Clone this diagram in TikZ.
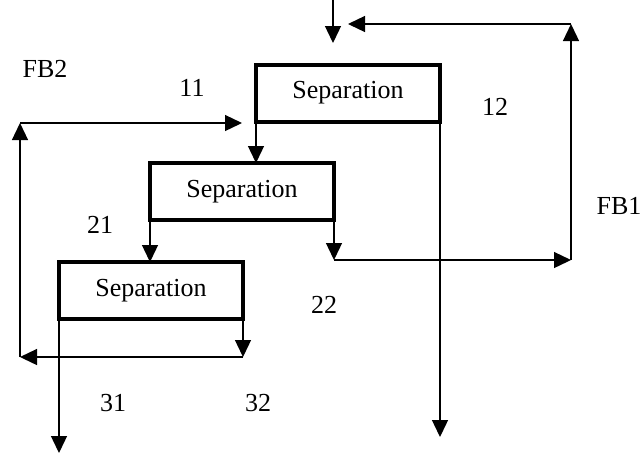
\documentclass[tikz,border=0pt]{standalone}
\usepackage{fontspec}
\setmainfont{Liberation Serif}
\usetikzlibrary{arrows.meta}

\begin{document}
\begin{tikzpicture}[x=0.5pt,y=-0.5pt,
  sepbox/.style={draw, line width=2pt, outer sep=0pt, inner sep=0pt,
    minimum width=92pt, minimum height=28.5pt, font=\fontsize{13}{15}\selectfont},
  flow/.style={line width=0.65pt, -{Triangle[length=8.5pt,width=8pt]}},
  lab/.style={font=\fontsize{13}{15}\selectfont}]
\useasboundingbox (0,0) rectangle (641,457);

% we draw the separation boxes
\node[sepbox] (box1) at (348,93) {Separation};
\node[sepbox] (box2) at (242,191.5) {Separation};
\node[sepbox] (box3) at (151,290.5) {Separation};

% free ends and corners
\coordinate (feed) at (333,0);
\coordinate (feedend) at (333,43);
\coordinate (out12) at (440,437);
\coordinate (c22) at (334,260);
\coordinate (fb1a) at (571,260);
\coordinate (fb1b) at (571,24);
\coordinate (fb1end) at (348,24);
\coordinate (c32) at (243,357);
\coordinate (fb2a) at (20,357);
\coordinate (fb2b) at (20,123);
\coordinate (fb2end) at (242,123);
\coordinate (out31) at (59,453);

% we draw the streams
\draw[flow] (feed) -- (feedend);
\draw[flow] (box1.south west) -- (box2.north -| box1.south west);
\draw[flow] (box1.south east) -- (out12);
\draw[flow] (box2.south west) -- (box3.north -| box2.south west);
\draw[flow] (box2.south east) -- (c22);
\draw[flow] (box3.south west) -- (out31);
\draw[flow] (box3.south east) -- (c32);

% FB1
\draw[flow] (c22) -- (fb1a);
\draw[flow] (fb1a) -- (fb1b);
\draw[flow] (fb1b) -- (fb1end);

% FB2
\draw[flow] (c32) -- (fb2a);
\draw[flow] (fb2a) -- (fb2b);
\draw[flow] (fb2b) -- (fb2end);

% we add some labels
\node[lab] (fb2lab) at (45,69) {FB2};
\node[lab] (lab11) at (192,88) {11};
\node[lab] (lab12) at (495,107) {12};
\node[lab] (fb1lab) at (619,206) {FB1};
\node[lab] (lab21) at (100,225) {21};
\node[lab] (lab22) at (324,305) {22};
\node[lab] (lab31) at (113,403) {31};
\node[lab] (lab32) at (258,403) {32};

\end{tikzpicture}
\end{document}
